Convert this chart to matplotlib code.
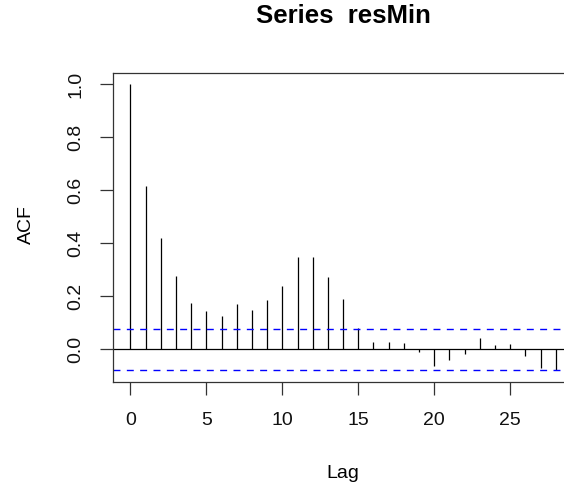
import matplotlib
matplotlib.use('Agg')
import matplotlib.pyplot as plt

# ACF of resMin
lags = list(range(29))
acf = [1.0, 0.618, 0.419, 0.278, 0.177, 0.146, 0.128, 0.170, 0.150, 0.186,
       0.239, 0.347, 0.350, 0.275, 0.192, 0.079, 0.028, 0.028, 0.023, -0.010,
       -0.063, -0.040, -0.018, 0.045, 0.018, 0.021, -0.025, -0.069, -0.078]
ci = 0.077
xticks = [0, 5, 10, 15, 20, 25]
yticks = [0.0, 0.2, 0.4, 0.6, 0.8, 1.0]

plt.rcParams['font.family'] = ['Liberation Sans', 'DejaVu Sans']

W, H = 564, 491
fig = plt.figure(figsize=(W / 100, H / 100), dpi=100)
# plot region (right edge runs past the picture, as in the reference)
left, right, top, bottom = 113.3, 572.9, 73.0, 381.5
ax = fig.add_axes([left / W, (H - bottom) / H, (right - left) / W, (bottom - top) / H])

ax.vlines(lags, 0, acf, color='black', lw=0.9)
ax.axhline(0, color='black', lw=0.9)
for c in (ci, -ci):
    ax.axhline(c, color='blue', lw=1.0, linestyle=(0, (5, 4.6)))

ax.set_xlim(-1.12, 29.12)
ax.set_ylim(-0.121, 1.043)
ax.set_xticks(xticks)
ax.set_xticklabels([str(t) for t in xticks])
ax.set_yticks(yticks)
ax.set_yticklabels([f'{t:.1f}' for t in yticks], rotation=90, va='center')

for sp in ax.spines.values():
    sp.set_color('#333333')
    sp.set_linewidth(0.9)
ax.tick_params(direction='out', length=9.4, width=0.9, color='#333333',
               labelsize=14, labelcolor='#111111')
ax.tick_params(axis='x', pad=12.5)
ax.tick_params(axis='y', pad=11.5)

fig.text(343 / W, (H - 16) / H, 'Series  resMin', ha='center', va='center',
         fontsize=18.5, fontweight='bold')
fig.text(343 / W, (H - 474) / H, 'Lag', ha='center', va='center', fontsize=14)
fig.text(26 / W, (H - 225) / H, 'ACF', ha='center', va='center', fontsize=14,
         rotation=90)

plt.savefig('out.png', dpi=100)
plt.close()
